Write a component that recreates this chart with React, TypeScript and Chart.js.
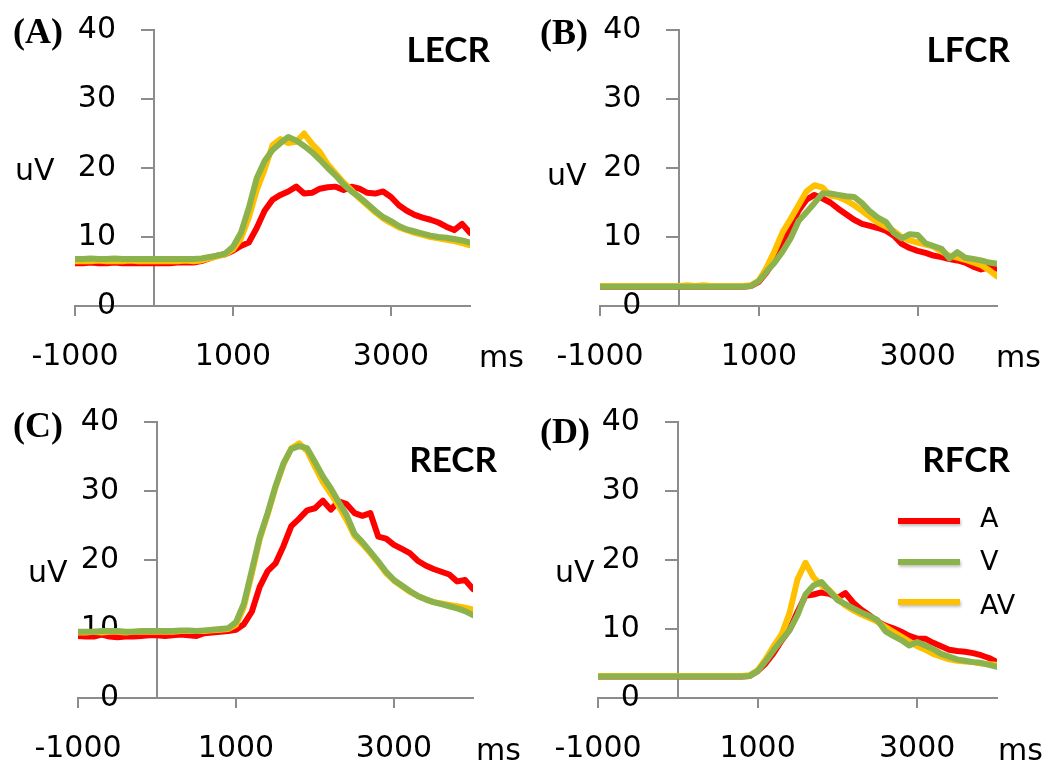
import React, { useEffect, useRef } from "react";
import { Chart, registerables } from "chart.js";

Chart.register(...registerables);

// ---------- data ----------
const TIMES = [
  -1000, -900, -800, -700, -600, -500, -400, -300, -200, -100,
  0, 100, 200, 300, 400, 500, 600, 700, 800, 900,
  1000, 1100, 1200, 1300, 1400, 1500, 1600, 1700, 1800, 1900,
  2000, 2100, 2200, 2300, 2400, 2500, 2600, 2700, 2800, 2900,
  3000, 3100, 3200, 3300, 3400, 3500, 3600, 3700, 3800, 3900,
  4000,
];
const X_TICKS = [-1000, 1000, 3000];
const SERIES_LABELS = ["A", "V", "AV"];

const LECR_A = [
  6.2, 6.2, 6.3, 6.2, 6.2, 6.3, 6.2, 6.2, 6.2, 6.2,
  6.2, 6.2, 6.2, 6.3, 6.3, 6.3, 6.5, 6.9, 7.3, 7.5,
  8.0, 8.7, 9.2, 11.3, 13.8, 15.4, 16.1, 16.6, 17.3, 16.3,
  16.4, 17.0, 17.2, 17.3, 16.8, 17.3, 17.0, 16.4, 16.3, 16.6,
  15.8, 14.6, 13.8, 13.2, 12.8, 12.5, 12.1, 11.5, 11.0, 11.9,
  10.6,
];
const LECR_V = [
  6.8, 6.8, 6.9, 6.8, 6.8, 6.9, 6.8, 6.8, 6.8, 6.8,
  6.8, 6.8, 6.8, 6.8, 6.8, 6.8, 6.9, 7.1, 7.3, 7.6,
  8.6, 10.6, 14.2, 18.5, 21.0, 22.6, 23.6, 24.5, 24.0, 23.2,
  22.3, 21.2, 20.0, 18.9, 17.6, 16.6, 15.8, 14.8, 13.8, 12.9,
  12.3, 11.6, 11.1, 10.8, 10.5, 10.2, 10.0, 9.9, 9.7, 9.5,
  9.2,
];
const LECR_AV = [
  6.5, 6.5, 6.5, 6.6, 6.5, 6.5, 6.5, 6.6, 6.5, 6.5,
  6.5, 6.5, 6.5, 6.5, 6.6, 6.5, 6.6, 6.9, 7.2, 7.5,
  8.2, 9.8, 12.8, 16.8, 19.8, 23.3, 24.2, 23.6, 23.8, 25.0,
  23.5, 22.3, 20.5, 19.2, 17.9, 16.8, 15.6, 14.6, 13.6, 12.7,
  12.0, 11.4, 11.0, 10.6, 10.3, 10.0, 9.8, 9.6, 9.4, 9.1,
  8.8,
];

const LFCR_A = [
  2.8, 2.8, 2.8, 2.8, 2.8, 2.8, 2.8, 2.8, 2.8, 2.8,
  2.8, 2.8, 2.8, 2.8, 2.8, 2.8, 2.8, 2.8, 2.8, 2.9,
  3.5, 4.9, 6.8, 9.4, 11.4, 13.8, 15.4, 16.1, 15.6, 15.0,
  14.1, 13.3, 12.5, 11.9, 11.6, 11.3, 10.9, 10.2, 9.0, 8.4,
  8.0, 7.7, 7.3, 7.1, 6.8, 6.6, 6.3, 5.7, 5.3, 5.6,
  5.4,
];
const LFCR_V = [
  2.8, 2.8, 2.8, 2.8, 2.8, 2.8, 2.8, 2.8, 2.8, 2.8,
  2.8, 2.8, 2.8, 2.8, 2.8, 2.8, 2.8, 2.8, 2.8, 2.9,
  3.6, 5.0, 6.3, 7.9, 9.8, 12.3, 13.6, 14.9, 16.3, 16.3,
  16.1, 15.9, 15.8, 14.9, 13.7, 12.8, 12.2, 10.6, 9.8, 10.4,
  10.3, 9.1, 8.7, 8.3, 6.9, 7.8, 7.0, 6.8, 6.6, 6.3,
  6.1,
];
const LFCR_AV = [
  2.9, 2.9, 2.9, 2.9, 2.9, 2.9, 2.9, 2.9, 2.9, 2.9,
  2.9, 3.0, 2.9, 3.0, 2.9, 2.9, 2.9, 2.9, 2.9, 3.0,
  3.7, 5.6, 8.0, 10.7, 12.6, 14.6, 16.6, 17.5, 17.2, 16.0,
  15.8, 15.3, 14.6, 13.8, 12.9, 12.1, 11.5, 10.9, 10.0, 9.5,
  9.2, 8.9, 8.6, 7.9, 7.3, 7.0, 6.7, 6.3, 5.9, 5.2,
  4.3,
];

const RECR_A = [
  9.0, 8.9, 8.9, 9.2, 8.9, 8.8, 8.9, 8.9, 9.0, 9.1,
  9.1, 9.0, 9.1, 9.2, 9.1, 9.0, 9.4, 9.5, 9.6, 9.7,
  9.9, 10.7, 12.5, 16.1, 18.4, 19.5, 22.0, 24.9, 26.0, 27.2,
  27.5, 28.6, 27.3, 28.5, 28.1, 26.8, 26.4, 26.8, 23.4, 23.1,
  22.2, 21.6, 21.0, 19.9, 19.2, 18.7, 18.3, 17.9, 16.9, 17.1,
  15.8,
];
const RECR_V = [
  9.6, 9.6, 9.6, 9.7, 9.7, 9.7, 9.6, 9.6, 9.7, 9.7,
  9.7, 9.7, 9.7, 9.8, 9.8, 9.7, 9.8, 9.9, 10.0, 10.1,
  11.0, 13.7, 18.5, 23.3, 26.8, 30.7, 34.0, 36.1, 36.5, 36.2,
  34.2, 32.1, 30.4, 28.4, 26.5, 23.8, 22.6, 21.2, 19.8, 18.3,
  17.1, 16.3, 15.5, 14.8, 14.3, 13.9, 13.6, 13.3, 13.0, 12.6,
  12.0,
];
const RECR_AV = [
  9.5, 9.5, 9.6, 9.5, 9.6, 9.6, 9.5, 9.6, 9.6, 9.6,
  9.6, 9.6, 9.6, 9.7, 9.7, 9.7, 9.7, 9.8, 9.9, 10.0,
  10.6, 13.2, 18.0, 23.0, 26.6, 30.5, 33.8, 36.2, 36.9, 35.8,
  33.5, 31.3, 29.6, 27.8, 25.8, 23.5, 22.3, 21.0, 19.6, 18.1,
  17.0, 16.2, 15.4, 14.8, 14.3, 13.9, 13.7, 13.5, 13.3, 13.1,
  12.8,
];

const RFCR_A = [
  3.1, 3.1, 3.1, 3.1, 3.1, 3.1, 3.1, 3.1, 3.1, 3.1,
  3.1, 3.1, 3.1, 3.1, 3.1, 3.1, 3.1, 3.1, 3.1, 3.2,
  3.9, 5.0, 6.5, 8.3, 9.9, 12.5, 14.8, 15.0, 15.3, 15.1,
  14.5, 15.2, 13.8, 12.8, 12.0, 11.1, 10.5, 10.1, 9.6, 9.0,
  8.6, 8.6, 8.0, 7.5, 7.0, 6.8, 6.7, 6.5, 6.2, 5.8,
  5.2,
];
const RFCR_V = [
  3.1, 3.1, 3.1, 3.1, 3.1, 3.1, 3.1, 3.1, 3.1, 3.1,
  3.1, 3.1, 3.1, 3.1, 3.1, 3.1, 3.1, 3.1, 3.1, 3.2,
  3.9, 5.3, 6.9, 8.4, 9.8, 12.0, 15.0, 16.3, 16.8, 15.5,
  14.2, 13.6, 13.0, 12.4, 11.9, 11.3, 9.7, 9.0, 8.4, 7.6,
  8.1, 7.6, 7.1, 6.4, 6.0, 5.6, 5.4, 5.2, 5.1, 4.8,
  4.5,
];
const RFCR_AV = [
  3.2, 3.2, 3.2, 3.2, 3.2, 3.2, 3.2, 3.2, 3.2, 3.2,
  3.2, 3.2, 3.2, 3.2, 3.2, 3.2, 3.2, 3.2, 3.2, 3.3,
  4.0, 5.6, 7.5, 9.2, 12.3, 17.2, 19.6, 17.5, 16.3, 15.6,
  14.4, 13.4, 12.7, 12.1, 11.6, 11.1, 10.3, 9.6, 8.9, 8.2,
  7.5, 7.0, 6.4, 6.0, 5.6, 5.4, 5.3, 5.2, 5.0, 4.9,
  4.8,
];

// ---------- styles ----------
const SERIES_COLORS = ["#FF0000", "#8CB24C", "#FFC000"];
const SERIES_ORDER = [2, 0, 1]; // V on top, then AV, then A
const AXIS_COLOR = "#8C8C8C";
const TEXT_COLOR = "#000000";
const AXIS_FONT = '"DejaVu Sans", sans-serif';
const TICK_SIZE = 30;
const TICK_LINE_HEIGHT = 1.0;
const X_TICK_LEN = 10;
const X_TICK_PAD = 26;
const Y_LABEL_GAP_PX = 38; // distance from y axis line to right edge of y labels

type PanelCfg = {
  tag: string;
  title: string;
  left: number;
  top: number;
  w: number;
  h: number;
  area: { l: number; r: number; t: number; b: number };
  tagPos: [number, number];
  uvPos: [number, number];
  msPos: [number, number];
  titlePos: [number, number];
  legend: boolean;
  series: number[][];
};

const PANELS: PanelCfg[] = [
  {
    tag: "(A)", title: "LECR", left: 0, top: 0, w: 525, h: 390,
    area: { l: 75, r: 470, t: 30, b: 306 },
    tagPos: [13, 43], uvPos: [15, 180], msPos: [479, 367], titlePos: [490, 62],
    legend: false, series: [LECR_A, LECR_V, LECR_AV],
  },
  {
    tag: "(B)", title: "LFCR", left: 525, top: 0, w: 528, h: 390,
    area: { l: 75, r: 472, t: 30, b: 306 },
    tagPos: [15, 44], uvPos: [22, 185], msPos: [471, 367], titlePos: [485, 62],
    legend: false, series: [LFCR_A, LFCR_V, LFCR_AV],
  },
  {
    tag: "(C)", title: "RECR", left: 0, top: 390, w: 525, h: 380,
    area: { l: 78, r: 473, t: 32, b: 308 },
    tagPos: [13, 47], uvPos: [28, 192], msPos: [476, 370], titlePos: [497, 82],
    legend: false, series: [RECR_A, RECR_V, RECR_AV],
  },
  {
    tag: "(D)", title: "RFCR", left: 525, top: 390, w: 528, h: 380,
    area: { l: 73, r: 472, t: 32, b: 308 },
    tagPos: [15, 53], uvPos: [30, 192], msPos: [473, 370], titlePos: [485, 82],
    legend: true, series: [RFCR_A, RFCR_V, RFCR_AV],
  },
];

const LEGEND_LAYOUT = { x1: 373, x2: 435, textX: 455, lineY: [131, 172, 212], textY: [137, 180, 224] };

function makeTextPlugin(cfg: PanelCfg) {
  return {
    id: "panelText",
    afterDraw(chart: any) {
      const ctx: CanvasRenderingContext2D = chart.ctx;
      ctx.save();
      ctx.fillStyle = TEXT_COLOR;
      ctx.textBaseline = "alphabetic";
      ctx.textAlign = "left";
      ctx.font = 'bold 36px "Liberation Serif", serif';
      ctx.fillText(cfg.tag, cfg.tagPos[0], cfg.tagPos[1]);
      ctx.font = `${TICK_SIZE}px ${AXIS_FONT}`;
      ctx.fillText("uV", cfg.uvPos[0], cfg.uvPos[1]);
      ctx.fillText("ms", cfg.msPos[0], cfg.msPos[1]);
      ctx.font = 'bold 35px Lato, "Open Sans", sans-serif';
      ctx.textAlign = "right";
      ctx.fillText(cfg.title, cfg.titlePos[0], cfg.titlePos[1]);
      if (cfg.legend) {
        const ds = chart.data.datasets;
        ctx.textAlign = "left";
        ctx.font = `27px ${AXIS_FONT}`;
        ds.forEach((d: any, i: number) => {
          ctx.save();
          ctx.shadowColor = "rgba(0,0,0,0.25)";
          ctx.shadowBlur = 3;
          ctx.shadowOffsetX = 1;
          ctx.shadowOffsetY = 2;
          ctx.strokeStyle = d.borderColor;
          ctx.lineWidth = 6;
          ctx.beginPath();
          ctx.moveTo(LEGEND_LAYOUT.x1, LEGEND_LAYOUT.lineY[i]);
          ctx.lineTo(LEGEND_LAYOUT.x2, LEGEND_LAYOUT.lineY[i]);
          ctx.stroke();
          ctx.restore();
          ctx.fillStyle = TEXT_COLOR;
          ctx.fillText(d.label, LEGEND_LAYOUT.textX, LEGEND_LAYOUT.textY[i]);
        });
      }
      ctx.restore();
    },
  };
}

function Panel({ cfg }: { cfg: PanelCfg }) {
  const ref = useRef<HTMLCanvasElement>(null);
  useEffect(() => {
    const canvas = ref.current!;
    // Chart.js reserves tickLength + label height + 2 * padding for a horizontal axis
    const xAxisH = X_TICK_LEN + 2 * X_TICK_PAD + TICK_SIZE * TICK_LINE_HEIGHT;
    const msPerPx = 5000 / (cfg.area.r - cfg.area.l);
    const labelAnchorX = -Y_LABEL_GAP_PX * msPerPx;
    const tickFont = { family: AXIS_FONT, size: TICK_SIZE, lineHeight: TICK_LINE_HEIGHT };
    const yTickStyle = {
      stepSize: 10,
      color: TEXT_COLOR,
      font: tickFont,
      callback: (v: any) => String(v),
    };
    const chart = new Chart(canvas, {
      type: "line",
      data: {
        datasets: SERIES_LABELS.map((lab, i) => ({
          label: lab,
          data: TIMES.map((t, k) => ({ x: t, y: cfg.series[i][k] })),
          borderColor: SERIES_COLORS[i],
          backgroundColor: SERIES_COLORS[i],
          borderWidth: 6,
          pointRadius: 0,
          tension: 0,
          fill: false,
          borderJoinStyle: "round",
          borderCapStyle: "round",
          order: SERIES_ORDER[i],
          yAxisID: "y",
        })),
      },
      options: {
        animation: false,
        responsive: false,
        devicePixelRatio: 1,
        events: [],
        layout: {
          padding: {
            left: cfg.area.l,
            right: cfg.w - cfg.area.r,
            top: cfg.area.t,
            bottom: cfg.h - cfg.area.b - xAxisH,
          },
        },
        plugins: { legend: { display: false }, tooltip: { enabled: false } },
        scales: {
          x: {
            type: "linear",
            min: -1000,
            max: 4000,
            afterBuildTicks: (s: any) => {
              s.ticks = X_TICKS.map((v) => ({ value: v }));
            },
            grid: {
              display: true,
              drawOnChartArea: false,
              drawTicks: true,
              tickLength: X_TICK_LEN,
              color: AXIS_COLOR,
              lineWidth: 2,
            },
            border: { display: true, color: AXIS_COLOR, width: 2 },
            ticks: {
              autoSkip: false,
              maxRotation: 0,
              padding: X_TICK_PAD,
              color: TEXT_COLOR,
              font: tickFont,
              callback: (v: any) => String(v),
            },
          },
          y: {
            type: "linear",
            min: 0,
            max: 40,
            position: { x: 0 } as any,
            grid: {
              display: true,
              drawOnChartArea: false,
              drawTicks: true,
              tickLength: 12,
              color: AXIS_COLOR,
              lineWidth: 2,
            },
            border: { display: true, color: AXIS_COLOR, width: 2 },
            ticks: { ...yTickStyle, display: false, padding: 0 },
          },
          yLabels: {
            type: "linear",
            min: 0,
            max: 40,
            position: { x: labelAnchorX } as any,
            grid: { display: false },
            border: { display: false },
            ticks: { ...yTickStyle, padding: 0 },
          },
        },
      } as any,
      plugins: [makeTextPlugin(cfg)],
    });
    return () => chart.destroy();
  }, [cfg]);
  return (
    <canvas
      ref={ref}
      width={cfg.w}
      height={cfg.h}
      style={{ position: "absolute", left: cfg.left, top: cfg.top, width: cfg.w, height: cfg.h }}
    />
  );
}

export default function App() {
  return (
    <div
      style={{
        position: "fixed",
        left: 0,
        top: 0,
        width: 1053,
        height: 770,
        background: "#FFFFFF",
        overflow: "hidden",
      }}
    >
      {PANELS.map((p) => (
        <Panel key={p.tag} cfg={p} />
      ))}
    </div>
  );
}
